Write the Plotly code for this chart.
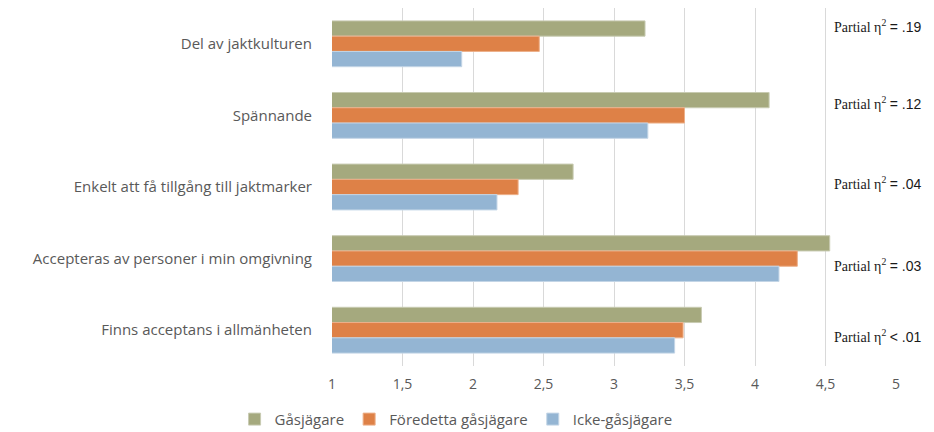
import plotly.graph_objects as go

CATEGORIES = [
    "Del av jaktkulturen",
    "Spännande",
    "Enkelt att få tillgång till jaktmarker",
    "Accepteras av personer i min omgivning",
    "Finns acceptans i allmänheten",
]
GASJAGARE = [3.22, 4.10, 2.71, 4.53, 3.62]
FORE_DETTA = [2.47, 3.50, 2.32, 4.30, 3.49]
ICKE = [1.92, 3.24, 2.17, 4.17, 3.43]
ETA_LABELS = ["= .19", "= .12", "= .04", "= .03", "< .01"]

COLOR_GREEN = "#A5A97E"
COLOR_ORANGE = "#DE8147"
COLOR_BLUE = "#94B5D3"
TEXT_GREY = "#595959"
SANS = "Open Sans, Liberation Sans, sans-serif"

fig = go.Figure()
for name, vals, color, edge in [
    ("Gåsjägare", GASJAGARE, COLOR_GREEN, "#C8CBB2"),
    ("Föredetta gåsjägare", FORE_DETTA, COLOR_ORANGE, "#EDB08A"),
    ("Icke-gåsjägare", ICKE, COLOR_BLUE, "#C3D5E6"),
]:
    fig.add_trace(go.Bar(
        y=CATEGORIES, x=vals, orientation="h", name=name,
        marker=dict(color=color, line=dict(color=edge, width=1)),
    ))

# eta labels sit slightly off the group centres in the original
eta_y = [0.950, 0.735, 0.511, 0.282, 0.084]
for lab, yy in zip(ETA_LABELS, eta_y):
    fig.add_annotation(
        xref="paper", yref="paper", x=0.887, y=yy, xanchor="left", yanchor="middle",
        showarrow=False,
        text=("Partial η<sup>2</sup> "
              f"<span style='font-family:Liberation Sans, sans-serif;font-size:14px'>{lab}</span>"),
        font=dict(family="Liberation Serif, Times New Roman, serif", size=14, color="#1a1a1a"),
    )

# page body adds an 8px offset, so the figure is sized a little smaller
fig.update_layout(
    width=926, height=424,
    barmode="group", bargap=0.36, bargroupgap=0.0,
    separators=", ",
    plot_bgcolor="white", paper_bgcolor="white",
    margin=dict(l=324, r=38, t=0, b=66, autoexpand=False),
    font=dict(family=SANS, size=15, color=TEXT_GREY),
    legend=dict(
        orientation="h", x=0.22, xanchor="center", y=-0.103, yanchor="top",
        font=dict(size=15, color=TEXT_GREY), traceorder="normal",
    ),
    showlegend=True,
)
fig.update_xaxes(
    range=[1, 5], tick0=1, dtick=0.5, showgrid=True, gridcolor="#D9D9D9", gridwidth=1,
    zeroline=False, showline=False, ticks="", tickfont=dict(size=14, color=TEXT_GREY),
    ticklabelstandoff=8,
)
fig.update_yaxes(
    autorange="reversed", showgrid=False, showline=False, ticks="",
    tickfont=dict(size=15, color=TEXT_GREY), ticklabelstandoff=19,
)

fig.write_html("out.html")
